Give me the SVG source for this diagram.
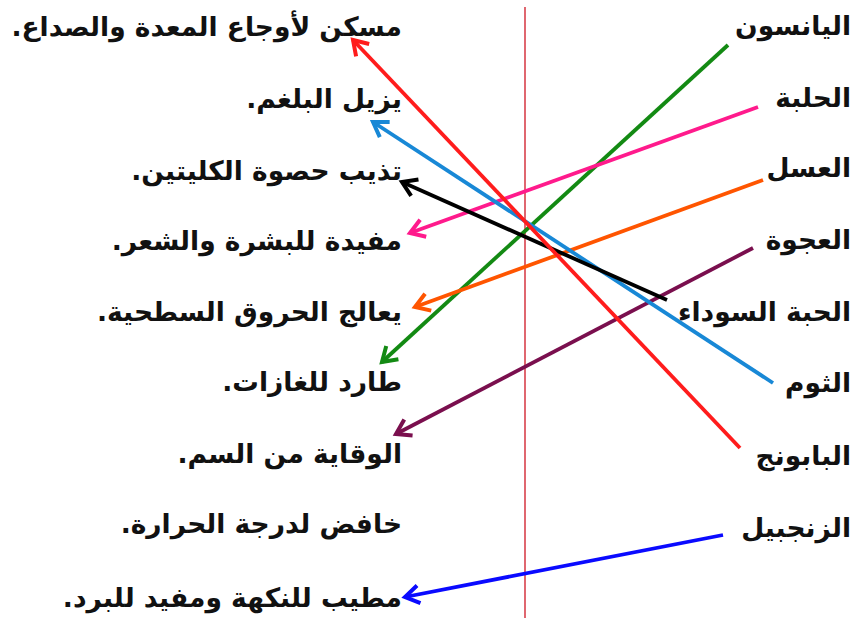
<svg xmlns="http://www.w3.org/2000/svg" width="856" height="618" viewBox="0 0 856 618">
<style>
.t{font-family:"DejaVu Sans","Noto Sans",sans-serif;font-weight:bold;font-size:26.5px;fill:#111;direction:rtl;text-anchor:start}
.c{fill:none;stroke-width:3.8;stroke-linecap:butt}
</style>
<defs>
<marker id="mGreen" viewBox="-17 -11 22 22" refX="0" refY="0" markerWidth="22" markerHeight="22" markerUnits="userSpaceOnUse" orient="auto"><path d="M-14,-9 L0,0 L-14,9" fill="none" stroke="#138a13" stroke-width="4"/></marker>
<marker id="mPink" viewBox="-17 -11 22 22" refX="0" refY="0" markerWidth="22" markerHeight="22" markerUnits="userSpaceOnUse" orient="auto"><path d="M-14,-9 L0,0 L-14,9" fill="none" stroke="#ff1a8c" stroke-width="4"/></marker>
<marker id="mOrange" viewBox="-17 -11 22 22" refX="0" refY="0" markerWidth="22" markerHeight="22" markerUnits="userSpaceOnUse" orient="auto"><path d="M-14,-9 L0,0 L-14,9" fill="none" stroke="#ff5500" stroke-width="4"/></marker>
<marker id="mPurple" viewBox="-17 -11 22 22" refX="0" refY="0" markerWidth="22" markerHeight="22" markerUnits="userSpaceOnUse" orient="auto"><path d="M-14,-9 L0,0 L-14,9" fill="none" stroke="#7a0f4e" stroke-width="4"/></marker>
<marker id="mBlack" viewBox="-17 -11 22 22" refX="0" refY="0" markerWidth="22" markerHeight="22" markerUnits="userSpaceOnUse" orient="auto"><path d="M-14,-9 L0,0 L-14,9" fill="none" stroke="#000" stroke-width="4"/></marker>
<marker id="mSky" viewBox="-17 -11 22 22" refX="0" refY="0" markerWidth="22" markerHeight="22" markerUnits="userSpaceOnUse" orient="auto"><path d="M-14,-9 L0,0 L-14,9" fill="none" stroke="#1888d6" stroke-width="4"/></marker>
<marker id="mRed" viewBox="-17 -11 22 22" refX="0" refY="0" markerWidth="22" markerHeight="22" markerUnits="userSpaceOnUse" orient="auto"><path d="M-14,-9 L0,0 L-14,9" fill="none" stroke="#ff1c1c" stroke-width="4"/></marker>
<marker id="mBlue" viewBox="-17 -11 22 22" refX="0" refY="0" markerWidth="22" markerHeight="22" markerUnits="userSpaceOnUse" orient="auto"><path d="M-14,-9 L0,0 L-14,9" fill="none" stroke="#0a0aff" stroke-width="4"/></marker>
</defs>
<rect width="856" height="618" fill="#fff"/>
<line id="divider" x1="525" y1="7" x2="525" y2="618" stroke="#d8404c" stroke-width="1.6"/>
<g id="right">
<g id="r1"><text class="t" x="851" y="35">اليانسون</text></g>
<g id="r2"><text class="t" x="851" y="107">الحلبة</text></g>
<g id="r3"><text class="t" x="851" y="177">العسل</text></g>
<g id="r4"><text class="t" x="851" y="249">العجوة</text></g>
<g id="r5"><text class="t" x="851" y="321">الحبة السوداء</text></g>
<g id="r6"><text class="t" x="851" y="392">الثوم</text></g>
<g id="r7"><text class="t" x="851" y="465">البابونج</text></g>
<g id="r8"><text class="t" x="851" y="537">الزنجبيل</text></g>
</g>
<g id="left">
<g id="l1"><text class="t" x="402" y="36">مسكن لأوجاع المعدة والصداع.</text></g>
<g id="l2"><text class="t" x="402" y="108">يزيل البلغم.</text></g>
<g id="l3"><text class="t" x="402" y="180">تذيب حصوة الكليتين.</text></g>
<g id="l4"><text class="t" x="402" y="250">مفيدة للبشرة والشعر.</text></g>
<g id="l5"><text class="t" x="402" y="321">يعالج الحروق السطحية.</text></g>
<g id="l6"><text class="t" x="402" y="391">طارد للغازات.</text></g>
<g id="l7"><text class="t" x="402" y="463">الوقاية من السم.</text></g>
<g id="l8"><text class="t" x="402" y="533">خافض لدرجة الحرارة.</text></g>
<g id="l9"><text class="t" x="402" y="607">مطيب للنكهة ومفيد للبرد.</text></g>
</g>
<g id="connectors">
<line class="c" x1="728" y1="45" x2="382" y2="362" stroke="#138a13" marker-end="url(#mGreen)"/>
<line class="c" x1="758" y1="107" x2="410" y2="233" stroke="#ff1a8c" marker-end="url(#mPink)"/>
<line class="c" x1="763" y1="180" x2="415" y2="307" stroke="#ff5500" marker-end="url(#mOrange)"/>
<line class="c" x1="753" y1="248" x2="396" y2="434" stroke="#7a0f4e" marker-end="url(#mPurple)"/>
<line class="c" x1="773" y1="383" x2="373" y2="122" stroke="#1888d6" marker-end="url(#mSky)"/>
<line class="c" x1="667" y1="300" x2="402" y2="182" stroke="#000" marker-end="url(#mBlack)"/>
<line class="c" x1="740" y1="448" x2="353" y2="40" stroke="#ff1c1c" marker-end="url(#mRed)"/>
<line class="c" x1="723" y1="535" x2="405" y2="597" stroke="#0a0aff" marker-end="url(#mBlue)"/>
</g>
</svg>
